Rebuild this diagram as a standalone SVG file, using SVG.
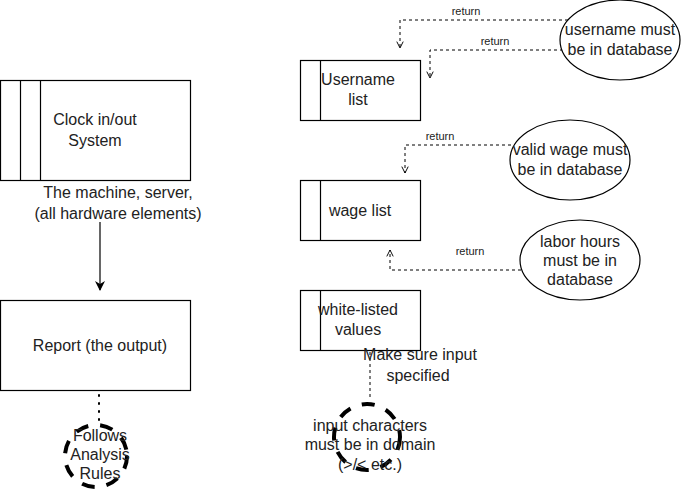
<svg xmlns="http://www.w3.org/2000/svg" width="681" height="501" viewBox="0 0 681 501">
<defs>
<style>
.box{fill:#fff;stroke:#000;stroke-width:1.2}
.t{font-family:"Liberation Sans",Arial,sans-serif;font-size:16px;fill:#222;text-anchor:middle}
.s{font-family:"Liberation Sans",Arial,sans-serif;font-size:11px;fill:#222;text-anchor:middle}
.dash{fill:none;stroke:#000;stroke-width:1;stroke-dasharray:3,3}
.thick{fill:none;stroke:#000;stroke-width:4;stroke-dasharray:13,12}
</style>
<marker id="open" viewBox="0 0 10 10" refX="9" refY="5" markerWidth="8" markerHeight="8" orient="auto" markerUnits="userSpaceOnUse">
<polyline points="1,1 9,5 1,9" fill="none" stroke="#000" stroke-width="1.2"/>
</marker>
<marker id="fill" viewBox="0 0 10 10" refX="9" refY="5" markerWidth="10" markerHeight="10" orient="auto" markerUnits="userSpaceOnUse">
<path d="M0,0 L10,5 L0,10 L3,5 Z" fill="#000"/>
</marker>
</defs>
<rect width="681" height="501" fill="#fff"/>
<g id="connectors">
<line x1="100" y1="222" x2="100" y2="290" stroke="#000" stroke-width="1.2" marker-end="url(#fill)"/>
<line x1="99" y1="395" x2="99" y2="421" stroke="#000" stroke-width="2" stroke-dasharray="1,7" stroke-linecap="round"/>
<line x1="370" y1="352" x2="370" y2="400" class="dash" stroke-dasharray="2,2"/>
<polyline points="568,20 400,20 400,48" class="dash" marker-end="url(#open)"/>
<polyline points="563,50 430,50 430,78" class="dash" marker-end="url(#open)"/>
<polyline points="511,145 405,145 405,173" class="dash" marker-end="url(#open)"/>
<polyline points="521,270 390,270 390,250" class="dash" marker-end="url(#open)"/>
<text class="s" x="466" y="15">return</text>
<text class="s" x="495" y="45">return</text>
<text class="s" x="440" y="140">return</text>
<text class="s" x="470" y="255">return</text>
</g>
<g id="clock">
<rect class="box" x="0.5" y="80.5" width="190" height="100"/>
<line x1="20.5" y1="80.5" x2="20.5" y2="180.5" stroke="#000" stroke-width="1.2"/>
<line x1="40.5" y1="80.5" x2="40.5" y2="180.5" stroke="#000" stroke-width="1.2"/>
<text class="t" x="95" y="125">Clock in/out</text>
<text class="t" x="95" y="146">System</text>
<text class="t" x="118" y="198">The machine, server,</text>
<text class="t" x="118" y="219">(all hardware elements)</text>
</g>
<g id="report">
<rect class="box" x="0.5" y="300.5" width="190" height="90"/>
<text class="t" x="100" y="351">Report (the output)</text>
</g>
<g id="follows">
<circle class="thick" cx="96" cy="456" r="31"/>
<text class="t" x="100" y="441">Follows</text>
<text class="t" x="100" y="460">Analysis</text>
<text class="t" x="100" y="479">Rules</text>
</g>
<g id="username-list">
<rect class="box" x="300.5" y="60.5" width="120" height="60"/>
<line x1="320.5" y1="60.5" x2="320.5" y2="120.5" stroke="#000" stroke-width="1.2"/>
<text class="t" x="358" y="85">Username</text>
<text class="t" x="358" y="105">list</text>
</g>
<g id="wage-list">
<rect class="box" x="300.5" y="180.5" width="120" height="60"/>
<line x1="320.5" y1="180.5" x2="320.5" y2="240.5" stroke="#000" stroke-width="1.2"/>
<text class="t" x="360" y="216">wage list</text>
</g>
<g id="white-listed">
<rect class="box" x="300.5" y="290.5" width="120" height="60"/>
<line x1="320.5" y1="290.5" x2="320.5" y2="350.5" stroke="#000" stroke-width="1.2"/>
<text class="t" x="358" y="315">white-listed</text>
<text class="t" x="358" y="335">values</text>
</g>
<g id="make-sure">
<text class="t" x="420" y="360">Make sure input</text>
<text class="t" x="418" y="381">specified</text>
</g>
<g id="input-chars">
<circle class="thick" cx="367" cy="437" r="33"/>
<text class="t" x="370" y="431">input characters</text>
<text class="t" x="370" y="450">must be in domain</text>
<text class="t" x="370" y="470">(&gt;/&lt; etc.)</text>
</g>
<g id="username-db">
<ellipse class="box" cx="620" cy="40" rx="60" ry="40"/>
<text class="t" x="620" y="35">username must</text>
<text class="t" x="620" y="55">be in database</text>
</g>
<g id="wage-db">
<ellipse class="box" cx="570" cy="160" rx="60" ry="40"/>
<text class="t" x="570" y="155">valid wage must</text>
<text class="t" x="570" y="175">be in database</text>
</g>
<g id="labor-db">
<ellipse class="box" cx="580" cy="260" rx="60" ry="40"/>
<text class="t" x="580" y="247">labor hours</text>
<text class="t" x="580" y="266">must be in</text>
<text class="t" x="580" y="285">database</text>
</g>
</svg>
